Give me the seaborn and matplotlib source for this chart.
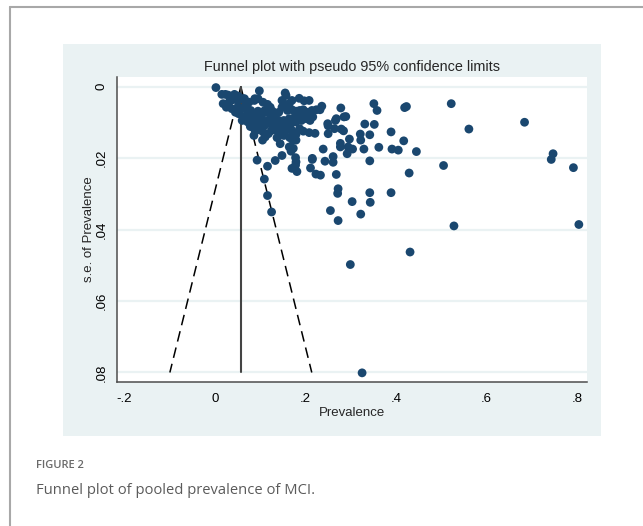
import matplotlib
matplotlib.use("Agg")
import matplotlib.pyplot as plt
import seaborn as sns
import numpy as np
import pandas as pd
from matplotlib.lines import Line2D
from matplotlib.patches import Rectangle

# study-level prevalence estimates and their standard errors
prevalence = [
    0.002, 0.522, 0.684, 0.561, 0.747, 0.743, 0.792, 0.804, 0.528, 0.505,
    0.431, 0.299, 0.325, 0.429, 0.445, 0.417, 0.405, 0.391, 0.389, 0.389,
    0.342, 0.343, 0.303, 0.322, 0.255, 0.272, 0.271, 0.272, 0.268, 0.342,
    0.329, 0.362, 0.352, 0.331, 0.342, 0.321, 0.322, 0.351, 0.358, 0.419,
    0.423, 0.304, 0.292, 0.297, 0.294, 0.277, 0.277, 0.279, 0.284, 0.266,
    0.289, 0.285, 0.278, 0.250, 0.250, 0.239, 0.261, 0.261, 0.243, 0.215,
    0.215, 0.211, 0.223, 0.233, 0.236, 0.232, 0.221, 0.208, 0.195, 0.093,
    0.116, 0.133, 0.148, 0.109, 0.116, 0.125, 0.098, 0.155, 0.157, 0.186,
    0.197, 0.208, 0.170, 0.164, 0.168, 0.173, 0.178, 0.179, 0.178, 0.170,
    0.181, 0.172, 0.179, 0.179, 0.165, 0.144, 0.137, 0.111, 0.105, 0.086,
    0.088, 0.085,
    # dense cluster near the pooled estimate
    0.015, 0.023, 0.043, 0.018, 0.031, 0.039, 0.050, 0.056, 0.065, 0.075,
    0.087, 0.095, 0.106, 0.116, 0.122, 0.050, 0.060, 0.070, 0.079, 0.052,
    0.064, 0.060, 0.075, 0.087, 0.095, 0.104, 0.110, 0.118, 0.127, 0.133,
    0.141, 0.148, 0.152, 0.160, 0.170, 0.179, 0.187, 0.195, 0.204, 0.214,
    0.224, 0.198, 0.208, 0.216, 0.187, 0.175, 0.164, 0.152, 0.141, 0.129,
    0.118, 0.106, 0.095, 0.083, 0.087, 0.098, 0.110, 0.122, 0.133, 0.145,
    0.156, 0.168, 0.179, 0.191, 0.202, 0.210, 0.125, 0.137, 0.148, 0.160,
    0.118, 0.106, 0.170, 0.187, 0.152, 0.102, 0.091, 0.078, 0.072, 0.045,
    0.037, 0.025, 0.148, 0.164, 0.062, 0.069, 0.058, 0.073, 0.080, 0.065,
    0.029, 0.036, 0.051, 0.088, 0.113, 0.249, 0.268, 0.264,
]
se_prevalence = [
    0.0003, 0.0048, 0.0100, 0.0119, 0.0188, 0.0204, 0.0227, 0.0386, 0.0390, 0.0221,
    0.0463, 0.0498, 0.0801, 0.0242, 0.0182, 0.0152, 0.0178, 0.0175, 0.0127, 0.0297,
    0.0297, 0.0324, 0.0322, 0.0357, 0.0347, 0.0375, 0.0299, 0.0286, 0.0246, 0.0208,
    0.0175, 0.0170, 0.0106, 0.0105, 0.0135, 0.0133, 0.0150, 0.0048, 0.0067, 0.0059,
    0.0056, 0.0175, 0.0188, 0.0147, 0.0169, 0.0159, 0.0169, 0.0119, 0.0124, 0.0095,
    0.0084, 0.0085, 0.0060, 0.0110, 0.0132, 0.0175, 0.0196, 0.0212, 0.0209, 0.0201,
    0.0204, 0.0228, 0.0245, 0.0248, 0.0055, 0.0065, 0.0131, 0.0129, 0.0125, 0.0206,
    0.0223, 0.0207, 0.0193, 0.0259, 0.0305, 0.0351, 0.0012, 0.0018, 0.0025, 0.0033,
    0.0040, 0.0039, 0.0039, 0.0169, 0.0181, 0.0173, 0.0199, 0.0211, 0.0220, 0.0229,
    0.0238, 0.0150, 0.0150, 0.0134, 0.0143, 0.0160, 0.0143, 0.0141, 0.0150, 0.0137,
    0.0121, 0.0115,
    0.0022, 0.0022, 0.0022, 0.0048, 0.0044, 0.0037, 0.0039, 0.0034, 0.0034, 0.0044,
    0.0039, 0.0034, 0.0044, 0.0050, 0.0058, 0.0058, 0.0062, 0.0058, 0.0067, 0.0076,
    0.0085, 0.0095, 0.0081, 0.0078, 0.0069, 0.0078, 0.0067, 0.0074, 0.0069, 0.0081,
    0.0072, 0.0058, 0.0048, 0.0067, 0.0065, 0.0069, 0.0067, 0.0065, 0.0072, 0.0067,
    0.0065, 0.0081, 0.0078, 0.0085, 0.0085, 0.0087, 0.0090, 0.0095, 0.0095, 0.0090,
    0.0095, 0.0095, 0.0090, 0.0095, 0.0104, 0.0109, 0.0109, 0.0104, 0.0109, 0.0113,
    0.0104, 0.0104, 0.0099, 0.0095, 0.0090, 0.0095, 0.0123, 0.0123, 0.0127, 0.0121,
    0.0132, 0.0127, 0.0123, 0.0118, 0.0137, 0.0112, 0.0123, 0.0112, 0.0099, 0.0072,
    0.0062, 0.0058, 0.0039, 0.0048, 0.0034, 0.0048, 0.0062, 0.0071, 0.0080, 0.0085,
    0.0024, 0.0038, 0.0027, 0.0034, 0.0066, 0.0104, 0.0090, 0.0118,
]
pooled = 0.057
se_max = 0.08
x_ticks = [-0.2, 0, 0.2, 0.4, 0.6, 0.8]
x_ticklabels = ["-.2", "0", ".2", ".4", ".6", ".8"]
y_ticks = [0, 0.02, 0.04, 0.06, 0.08]
y_ticklabels = ["0", ".02", ".04", ".06", ".08"]

df = pd.DataFrame({"prev": prevalence, "se": se_prevalence})

sns.set_style("white")
plt.rcParams["font.family"] = ["Liberation Sans", "DejaVu Sans"]

stata_bg = "#eaf2f3"
navy = "#1a476f"
axis_col = "#4d4d4d"

fig = plt.figure(figsize=(6.43, 5.26), dpi=100)
fig.patch.set_facecolor("white")

# page frame lines + stata graph region
fig.add_artist(Line2D([10 / 643, 1], [1 - 7 / 526, 1 - 7 / 526], color="#a8a8a8", lw=1.5))
fig.add_artist(Line2D([10 / 643, 10 / 643], [0, 1 - 7 / 526], color="#a8a8a8", lw=1.5))
fig.add_artist(Rectangle((63 / 643, 90 / 526), 538 / 643, 392 / 526,
                         facecolor=stata_bg, edgecolor="none", zorder=0))

ax = fig.add_axes([117 / 643, 144 / 526, 470 / 643, 305 / 526])
ax.set_facecolor("white")

# funnel
se_line = np.array([0, se_max])
ax.plot(pooled - 1.96 * se_line, se_line, color="black", lw=1.1, ls=(0, (7, 4)), zorder=2)
ax.plot(pooled + 1.96 * se_line, se_line, color="black", lw=1.1, ls=(0, (7, 4)), zorder=2)
ax.plot([pooled, pooled], [0, se_max], color="#444444", lw=1.5, zorder=2)

sns.scatterplot(data=df, x="prev", y="se", ax=ax, color=navy, s=40,
                edgecolor="none", linewidth=0, zorder=3)

ax.set_xlim(-0.2166, 0.822)
ax.set_ylim(0.08266, -0.00266)
ax.set_xticks(x_ticks)
ax.set_xticklabels(x_ticklabels)
ax.set_yticks(y_ticks)
ax.set_yticklabels(y_ticklabels, rotation=90, va="center")
for t in y_ticks:
    ax.axhline(t, color=stata_bg, lw=1.6, zorder=1)

for side in ["top", "right"]:
    ax.spines[side].set_visible(False)
for side in ["left", "bottom"]:
    ax.spines[side].set_color(axis_col)
    ax.spines[side].set_linewidth(1.1)
ax.tick_params(axis="both", direction="out", length=5, width=1, color=axis_col,
               labelsize=9.5, labelcolor="black", pad=3)
ax.tick_params(axis="y", pad=2)

ax.set_xlabel("Prevalence", fontsize=9.5, labelpad=1)
ax.set_ylabel("s.e. of Prevalence", fontsize=9.5)
ax.yaxis.set_label_coords(-0.047, 0.5)
ax.set_title("Funnel plot with pseudo 95% confidence limits", fontsize=10.4, pad=4)

# caption
fig.text(36 / 643, 1 - 466 / 526, "FIGURE 2", fontsize=8, fontweight="semibold",
         color="#6a6a6a", family=["Open Sans", "DejaVu Sans"], va="center")
fig.text(36 / 643, 1 - 490 / 526, "Funnel plot of pooled prevalence of MCI.", fontsize=10.6,
         color="#5a5a5a", family=["Open Sans", "DejaVu Sans"], va="center")

fig.savefig("out.png", dpi=100)
